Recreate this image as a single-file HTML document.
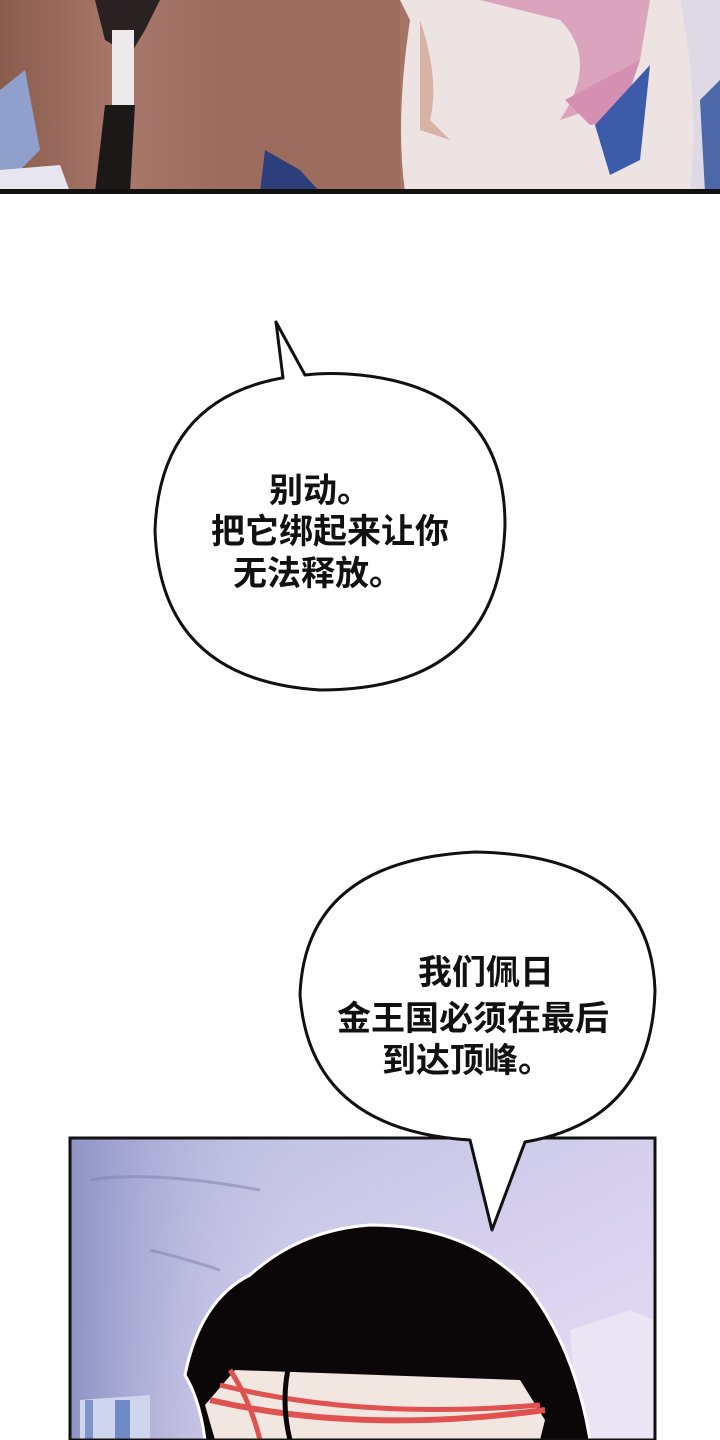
<!DOCTYPE html>
<html><head><meta charset="utf-8"><style>
html,body{margin:0;padding:0;background:#fff;}
body{width:720px;height:1440px;overflow:hidden;position:relative;}
svg{position:absolute;left:0;top:0;}
.t{font-family:"Liberation Sans","Noto Sans CJK SC",sans-serif;font-weight:bold;font-size:34px;fill:#111;text-anchor:middle;}
</style></head><body>
<svg width="720" height="1440" viewBox="0 0 720 1440">
<defs>
<linearGradient id="bg" x1="0" y1="0" x2="1" y2="1">
<stop offset="0" stop-color="#b9bde0"/><stop offset="0.6" stop-color="#d9d2ef"/><stop offset="1" stop-color="#e8dcf4"/>
</linearGradient>
<linearGradient id="bgl" x1="0" y1="0" x2="1" y2="0">
<stop offset="0" stop-color="#8e93c4"/><stop offset="0.4" stop-color="#c9c6e8" stop-opacity="0"/>
</linearGradient>
<linearGradient id="skin" x1="0" y1="0" x2="1" y2="0">
<stop offset="0" stop-color="#8a5c4d"/><stop offset="0.3" stop-color="#a8786a"/><stop offset="0.55" stop-color="#9c6d5f"/>
</linearGradient>
</defs>
<rect x="0" y="0" width="720" height="192" fill="#a57465"/>
<rect x="0" y="0" width="400" height="192" fill="url(#skin)"/>
<path d="M0 90 L25 70 L40 150 L0 190Z" fill="#8fa0cc"/>
<path d="M0 170 L60 165 L70 192 L0 192Z" fill="#e7e6ef"/>
<path d="M95 0 L160 0 L145 30 L130 55 L105 40Z" fill="#2a2222"/>
<rect x="112" y="30" width="22" height="80" fill="#eee9ea"/>
<path d="M105 105 L135 105 L130 192 L95 192Z" fill="#1d1818"/>
<path d="M265 150 L300 170 L320 192 L260 192Z" fill="#2d3f7a"/>
<path d="M400 0 L720 0 L720 192 L405 192 Q395 120 410 20Z" fill="#ede3e3"/>
<path d="M480 0 L650 0 L640 60 L590 110 L560 120 Q600 60 560 20Z" fill="#dba4bc"/>
<path d="M565 100 L640 60 L620 120 L590 125Z" fill="#d58fb0"/>
<path d="M595 125 L650 65 L640 160 L610 175Z" fill="#3c5ba8"/>
<path d="M680 0 L720 0 L720 192 L690 192 Q700 100 680 0Z" fill="#dfd9e6"/>
<path d="M700 100 L720 80 L720 192 L705 192Z" fill="#4d68a8"/>
<path d="M420 20 Q440 80 430 120 L450 140 L420 130Z" fill="#d6b3a4"/>
<rect x="0" y="189" width="720" height="5" fill="#111"/>
<rect x="70" y="1138" width="585" height="302" fill="url(#bg)"/>
<rect x="70" y="1138" width="585" height="302" fill="url(#bgl)"/>
<path d="M90 1180 Q150 1170 260 1190" stroke="#7c80a8" stroke-width="3" fill="none" opacity=".5"/>
<path d="M150 1250 Q190 1260 220 1270" stroke="#7c80a8" stroke-width="3" fill="none" opacity=".5"/>
<path d="M570 1330 L630 1310 L655 1320 L655 1440 L580 1440Z" fill="#ebe4f5"/>
<path d="M80 1400 L150 1395 L150 1440 L80 1440Z" fill="#cfd5ec"/>
<rect x="85" y="1400" width="8" height="40" fill="#7d95cc"/>
<rect x="115" y="1400" width="15" height="40" fill="#6f8ac4"/>
<path d="M185 1375 Q200 1300 250 1275 Q300 1230 370 1225 Q470 1225 530 1290 Q575 1350 590 1440 L205 1440 Q200 1400 185 1375Z" fill="#0b0709" stroke="#fff" stroke-width="3"/>
<path d="M235 1370 L520 1380 L545 1420 L540 1440 L215 1440 L205 1405Z" fill="#f2e6e0"/>
<path d="M210 1400 Q360 1435 545 1410" stroke="#e0524f" stroke-width="6" fill="none"/>
<path d="M220 1385 Q360 1420 540 1405" stroke="#e0524f" stroke-width="5" fill="none"/>
<path d="M230 1370 Q250 1400 260 1440" stroke="#e0524f" stroke-width="5" fill="none"/>
<path d="M290 1360 Q280 1400 290 1440" stroke="#0b0709" stroke-width="5" fill="none"/>
<rect x="70" y="1138" width="585" height="302" fill="none" stroke="#111" stroke-width="3"/>
<path d="M282 378 Q160 400 155 530 Q160 680 320 690 Q500 690 505 525 Q505 390 360 375 Q330 372 305 375 L276 322 L283 378Z" fill="#fff" stroke="#111" stroke-width="3" stroke-linejoin="round"/>
<text class="t" x="320" y="502">别动。</text>
<text class="t" x="330" y="543">把它绑起来让你</text>
<text class="t" x="318" y="585">无法释放。</text>
<path d="M470 1140 Q310 1130 300 995 Q305 860 475 852 Q650 855 655 990 Q652 1120 525 1142 L492 1230 L470 1140Z" fill="#fff" stroke="#111" stroke-width="3" stroke-linejoin="round"/>
<text class="t" x="486" y="984">我们佩日</text>
<text class="t" x="473" y="1030">金王国必须在最后</text>
<text class="t" x="467" y="1072">到达顶峰。</text>
</svg>
</body></html>
